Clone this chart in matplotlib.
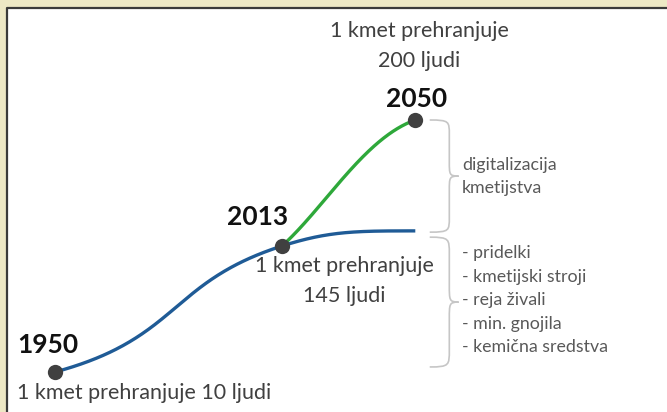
import numpy as np
import matplotlib
matplotlib.use("Agg")
import matplotlib.pyplot as plt
from matplotlib.patches import Rectangle, PathPatch
from matplotlib.path import Path

# ---- data ----
years = [1950, 2013, 2050]
stage = [0.0, 1.0, 2.0]            # conceptual level of each milestone
trad_end_year = 2050
trad_end_stage = 1.12              # blue (traditional) trend reaches this level in 2050
people_fed = [10, 145, 200]
year_labels = ["1950", "2013", "2050"]
fed_labels = ["1 kmet prehranjuje 10 ljudi",
              "1 kmet prehranjuje\n145 ljudi",
              "1 kmet prehranjuje\n200 ljudi"]
digital_label = "digitalizacija\nkmetijstva"
factors = ["- pridelki", "- kmetijski stroji", "- reja živali",
           "- min. gnojila", "- kemična sredstva"]

BLUE = "#1f5b96"
GREEN = "#2ea83a"
DOT = "#404040"
GREY = "#404040"
BEIGE = "#ede8c5"

plt.rcParams['font.family'] = ['Lato', 'DejaVu Sans']

W, H = 667, 412
fig = plt.figure(figsize=(W / 100, H / 100), dpi=100)
fig.patch.set_facecolor(BEIGE)
ax = fig.add_axes([0, 0, 1, 1])
ax.set_facecolor("none")
ax.axis("off")
# scale: 3.603 px per year, 126 px per stage
ax.set_xlim(1950 - 55 / 3.603, 1950 + (W - 55) / 3.603)
ax.set_ylim(-(H - 372) / 126, 372 / 126)

# white panel with dark top/left border
ax.add_patch(Rectangle((7 / W, 0), 1, (H - 8) / H, transform=ax.transAxes,
                       facecolor="white", edgecolor="none", zorder=0))
ax.plot([7 / W, 7 / W, 1], [0, (H - 8) / H, (H - 8) / H], transform=ax.transAxes,
        color="#3a3a3a", lw=1.6, zorder=1, solid_capstyle="butt")

PXY = 3.603 / 126  # convert pixel slope to data slope


def bez(x0, y0, x1, y1, s0, s1, f0, f1, n=200):
    dx = x1 - x0
    c1 = (x0 + f0 * dx, y0 + f0 * dx * s0 * PXY)
    c2 = (x1 - f1 * dx, y1 - f1 * dx * s1 * PXY)
    t = np.linspace(0, 1, n)[:, None]
    P = np.array([[x0, y0], c1, c2, [x1, y1]])
    B = ((1 - t) ** 3 * P[0] + 3 * (1 - t) ** 2 * t * P[1]
         + 3 * (1 - t) * t ** 2 * P[2] + t ** 3 * P[3])
    return B[:, 0], B[:, 1]


# blue: 1950 -> 2013 -> 2050 (traditional)
bx1, by1 = bez(years[0], stage[0], years[1], stage[1], 0.27, 0.32, 0.55, 0.5)
bx2, by2 = bez(years[1], stage[1], trad_end_year, trad_end_stage, 0.32, 0.0, 0.35, 0.45)
ax.plot(np.r_[bx1, bx2], np.r_[by1, by2], color=BLUE, lw=2.4, zorder=3,
        solid_capstyle="butt")
# green: 2013 -> 2050 (digital)
gx, gy = bez(years[1], stage[1], years[2], stage[2], 0.9, 0.35, 0.32, 0.38)
ax.plot(gx, gy, color=GREEN, lw=2.4, zorder=3, solid_capstyle="butt")

ax.plot(years, stage, "o", color=DOT, ms=11, zorder=4, mec="none")

# year labels
yl_off = [(-7, 27), (-24, 29), (1, 21)]
for x, y, lab, off in zip(years, stage, year_labels, yl_off):
    ax.annotate(lab, (x, y), xytext=off, textcoords="offset pixels",
                ha="center", va="center", fontsize=19, fontweight="bold",
                color="#111111", zorder=5)

# people-fed labels
FS = 15.5
ax.annotate(fed_labels[0], (years[0], stage[0]), xytext=(-38, -21),
            textcoords="offset pixels", ha="left", va="center",
            fontsize=FS, color=GREY, zorder=5)
ax.annotate(fed_labels[1], (years[1], stage[1]), xytext=(62, -35),
            textcoords="offset pixels", ha="center", va="center",
            fontsize=FS, color=GREY, linespacing=1.62, zorder=5)
ax.annotate(fed_labels[2], (years[2], stage[2]), xytext=(4, 74),
            textcoords="offset pixels", ha="center", va="center",
            fontsize=FS, color=GREY, linespacing=1.62, zorder=5)


# braces
def brace(x0, width, ytop, ybot, color="#c6c6c6"):
    ym = (ytop + ybot) / 2
    xv = x0 + width * 0.68
    xt = x0 + width
    h = (ytop - ybot)
    r = h * 0.13
    verts = [(x0, ytop), (xv, ytop), (xv, ytop - r * 0.1), (xv, ytop - r),
             (xv, ym + r), (xv, ym + r * 0.1), (xv, ym), (xt, ym),
             (xv, ym), (xv, ym - r * 0.1), (xv, ym - r),
             (xv, ybot + r), (xv, ybot + r * 0.1), (xv, ybot), (x0, ybot)]
    codes = [Path.MOVETO, Path.CURVE4, Path.CURVE4, Path.CURVE4,
             Path.LINETO, Path.CURVE4, Path.CURVE4, Path.CURVE4,
             Path.CURVE4, Path.CURVE4, Path.CURVE4,
             Path.LINETO, Path.CURVE4, Path.CURVE4, Path.CURVE4]
    ax.add_patch(PathPatch(Path(verts, codes), facecolor="none",
                           edgecolor=color, lw=1.2, zorder=2))


bx0 = years[2] + 4.0
brace(bx0, 8.0, stage[2] - 0.0, trad_end_stage - 0.01)
brace(bx0, 8.0, trad_end_stage - 0.05, stage[0] + 0.04)

ax.annotate(digital_label, (bx0 + 9.0, (stage[2] + trad_end_stage) / 2 - 0.01),
            ha="left", va="center", fontsize=12.8, color="#595959",
            linespacing=1.55, zorder=5)
ax.annotate("\n".join(factors), (bx0 + 9.0, (trad_end_stage + stage[0]) / 2 + 0.01),
            ha="left", va="center", fontsize=12.8, color="#595959",
            linespacing=1.57, zorder=5)

fig.savefig("out.png", dpi=100, facecolor=fig.get_facecolor())
